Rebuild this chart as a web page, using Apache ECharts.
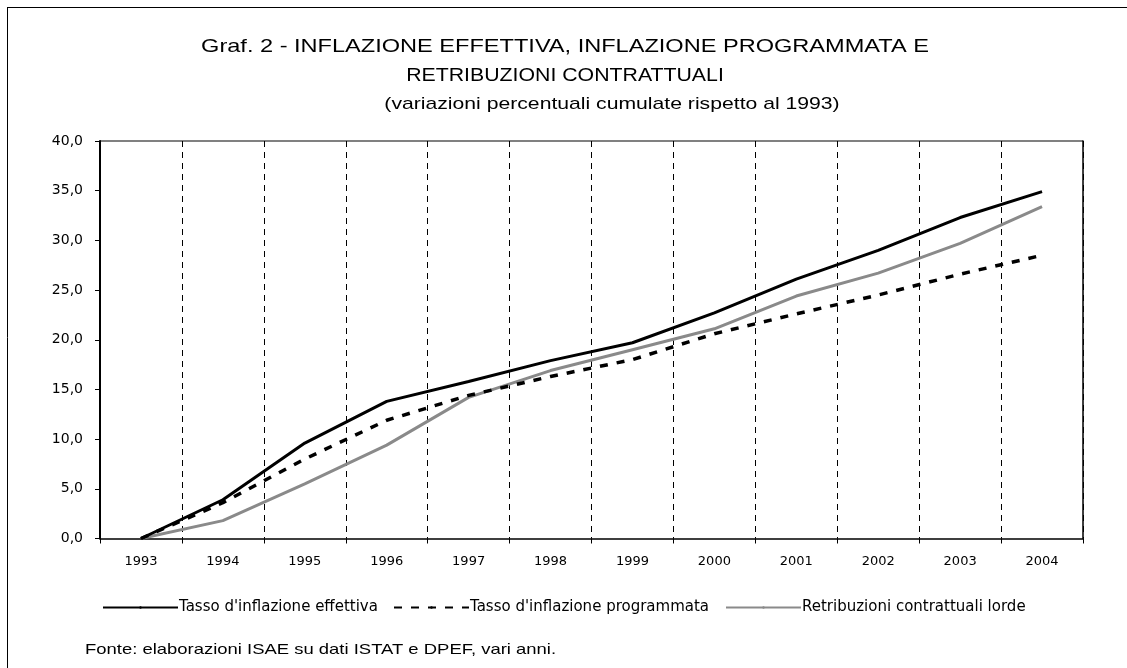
<!DOCTYPE html>
<html>
<head>
<meta charset="utf-8">
<script src="https://cdn.jsdelivr.net/npm/echarts@6/dist/echarts.min.js"></script>
<style>
html,body{margin:0;padding:0;background:#fff;}
#c{width:1127px;height:668px;}
</style>
</head>
<body>
<div id="c"></div>
<script>
var years = ['1993','1994','1995','1996','1997','1998','1999','2000','2001','2002','2003','2004'];
var effettiva = [0, 3.9, 9.6, 13.8, 15.8, 17.9, 19.7, 22.7, 26.1, 29.0, 32.3, 34.9];
var programmata = [0, 3.6, 8.0, 11.9, 14.4, 16.3, 18.0, 20.6, 22.6, 24.5, 26.6, 28.5];
var retribuzioni = [0, 1.8, 5.5, 9.4, 14.2, 16.9, 19.0, 21.1, 24.4, 26.7, 29.7, 33.4];
var seriesNames = ["Tasso d'inflazione effettiva", "Tasso d'inflazione programmata", "Retribuzioni contrattuali lorde"];
var titleLines = ["Graf. 2 - INFLAZIONE EFFETTIVA, INFLAZIONE PROGRAMMATA E", "RETRIBUZIONI CONTRATTUALI"];
var subtitle = "(variazioni percentuali cumulate rispetto al 1993)";
var source = "Fonte: elaborazioni ISAE su dati ISTAT e DPEF, vari anni.";

var FONT = "'Liberation Sans', Arial, sans-serif";
var WIDE = "'DejaVu Sans', sans-serif";
var chart = echarts.init(document.getElementById('c'), null, {renderer: 'canvas'});
var fmt = function (v) { return v.toFixed(1).replace('.', ','); };

function legendAt(left, name) {
  return {
    top: 595, left: left,
    itemWidth: 75, itemHeight: 3, itemGap: 0,
    itemStyle: {borderWidth: 0},
    textStyle: {fontFamily: WIDE, fontSize: 15, color: '#000', padding: [0,0,0,-4]},
    data: [name]
  };
}

chart.setOption({
  animation: false,
  backgroundColor: '#fff',
  textStyle: {fontFamily: FONT, color: '#000'},
  grid: {left: 100, right: 44, top: 141, bottom: 129.5, containLabel: false},
  legend: [
    legendAt(97, seriesNames[0]),
    legendAt(388, seriesNames[1]),
    legendAt(720, seriesNames[2])
  ],
  graphic: [
    {type: 'line', shape: {x1: 7, y1: 7.5, x2: 1127, y2: 7.5}, style: {stroke: '#000', lineWidth: 1}},
    {type: 'line', shape: {x1: 7.5, y1: 7, x2: 7.5, y2: 668}, style: {stroke: '#000', lineWidth: 1}},
    {type: 'text', x: 565, y: 47, scaleX: 1.24, style: {text: titleLines[0], font: "19px " + FONT, fill: '#000', textAlign: 'center', textVerticalAlign: 'middle'}},
    {type: 'text', x: 565, y: 76, scaleX: 1.12, style: {text: titleLines[1], font: "19px " + FONT, fill: '#000', textAlign: 'center', textVerticalAlign: 'middle'}},
    {type: 'text', x: 612, y: 104, scaleX: 1.245, style: {text: subtitle, font: "17px " + FONT, fill: '#000', textAlign: 'center', textVerticalAlign: 'middle'}},
    {type: 'text', x: 85, y: 650, scaleX: 1.23, style: {text: source, font: "15px " + FONT, fill: '#000', textAlign: 'left', textVerticalAlign: 'middle'}}
  ],
  xAxis: {
    type: 'category', data: years, boundaryGap: true,
    axisLine: {lineStyle: {color: '#000', width: 1.5}},
    axisTick: {show: true, length: 5, lineStyle: {color: '#000'}},
    axisLabel: {margin: 17, fontSize: 13, color: '#000', fontFamily: WIDE},
    splitLine: {show: true, lineStyle: {color: '#000', width: 1, type: [6, 5]}}
  },
  yAxis: [{
    type: 'value', min: 0, max: 40, interval: 5,
    axisLine: {show: true, lineStyle: {color: '#000', width: 2}},
    axisTick: {show: true, length: 5, lineStyle: {color: '#000'}},
    axisLabel: {margin: 17, fontSize: 14, color: '#000', fontFamily: WIDE, formatter: fmt},
    splitLine: {show: true, lineStyle: {color: ['rgba(0,0,0,0)','rgba(0,0,0,0)','rgba(0,0,0,0)','rgba(0,0,0,0)','rgba(0,0,0,0)','rgba(0,0,0,0)','rgba(0,0,0,0)','rgba(0,0,0,0)','#808080'], width: 2}}
  }, {
    type: 'value', min: 0, max: 40, interval: 5, position: 'right',
    axisLine: {show: true, lineStyle: {color: '#000', width: 1.5}},
    axisTick: {show: false}, axisLabel: {show: false}, splitLine: {show: false}
  }],
  series: [
    {name: seriesNames[0], type: 'line', data: effettiva, symbol: 'none', lineStyle: {color: '#000', width: 3}, itemStyle: {color: '#000'}, z: 4},
    {name: seriesNames[1], type: 'line', data: programmata, symbol: 'none', lineStyle: {color: '#000', width: 3.5, type: [8, 9]}, itemStyle: {color: '#000'}, z: 3},
    {name: seriesNames[2], type: 'line', data: retribuzioni, symbol: 'none', lineStyle: {color: '#8a8a8a', width: 3}, itemStyle: {color: '#8a8a8a'}, z: 2}
  ]
});
</script>
</body>
</html>
